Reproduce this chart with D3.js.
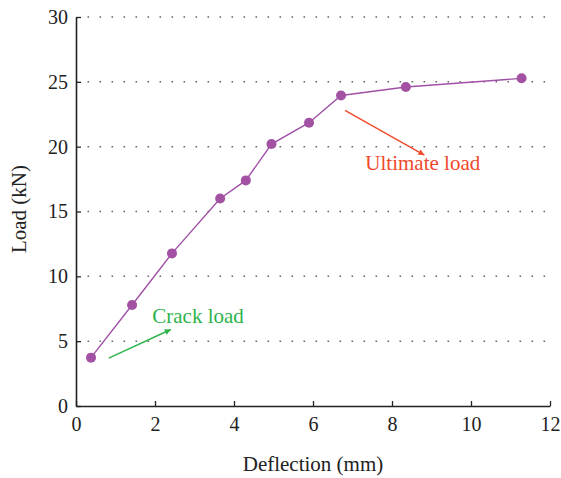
<!DOCTYPE html>
<html><head><meta charset="utf-8">
<script src="https://cdn.jsdelivr.net/npm/d3@7"></script>
<style>
body{margin:0;background:#fff;}
text{font-family:"Liberation Serif","Times New Roman",serif;}
</style></head>
<body><svg id="c" width="561" height="478"></svg>
<script>
const deflection = [0.38, 1.42, 2.43, 3.65, 4.30, 4.95, 5.90, 6.71, 8.35, 11.28];
const load = [3.73, 7.79, 11.77, 16.0, 17.4, 20.2, 21.85, 23.95, 24.6, 25.27];
const xTicks = [0, 2, 4, 6, 8, 10, 12];
const yTicks = [0, 5, 10, 15, 20, 25, 30];
const annotations = [
  {label: "Crack load", color: "#2db34a", from: [0.83, 3.7], to: [2.4, 5.9], text: [1.93, 6.42], anchor: "start"},
  {label: "Ultimate load", color: "#f0492b", from: [6.81, 22.8], to: [8.82, 19.35], text: [8.78, 18.2], anchor: "middle"}
];

const svg = d3.select("#c");
const m = {l: 76, r: 11, t: 17, b: 72};
const W = 561, H = 478;
const x = d3.scaleLinear().domain([0, 12]).range([m.l, W - m.r]);
const y = d3.scaleLinear().domain([0, 30]).range([H - m.b, m.t]);

// grid
svg.append("g").selectAll("line").data(yTicks.filter(d => d > 0)).join("line")
  .attr("x1", x(0) + 11.5).attr("x2", x(12)).attr("y1", d => y(d)).attr("y2", d => y(d))
  .attr("stroke", "#666").attr("stroke-width", 1.5).attr("stroke-dasharray", "1.6,10.4");

const xa = svg.append("g").attr("transform", `translate(0,${y(0)})`)
  .call(d3.axisBottom(x).tickValues(xTicks).tickSizeInner(-5).tickSizeOuter(0).tickPadding(11));
const ya = svg.append("g").attr("transform", `translate(${x(0)},0)`)
  .call(d3.axisLeft(y).tickValues(yTicks).tickSizeInner(-5).tickSizeOuter(0).tickPadding(8));
[xa, ya].forEach(a => {
  a.select(".domain").attr("stroke", "#222").attr("stroke-width", 1.6);
  a.selectAll(".tick line").attr("stroke", "#222").attr("stroke-width", 1.3);
  a.selectAll(".tick text").attr("font-size", 20).attr("fill", "#222")
   .attr("font-family", "'Liberation Serif',serif");
});

// line + points
svg.append("path").datum(deflection.map((d, i) => [d, load[i]]))
  .attr("fill", "none").attr("stroke", "#a050a6").attr("stroke-width", 1.4)
  .attr("d", d3.line().x(d => x(d[0])).y(d => y(d[1])));
svg.append("g").selectAll("circle").data(deflection).join("circle")
  .attr("cx", d => x(d)).attr("cy", (d, i) => y(load[i])).attr("r", 5)
  .attr("fill", "#a352a3");

// annotations
const defs = svg.append("defs");
annotations.forEach((a, i) => {
  defs.append("marker").attr("id", "ar" + i).attr("viewBox", "0 0 10 10")
    .attr("refX", 10).attr("refY", 5).attr("markerWidth", 9).attr("markerHeight", 6)
    .attr("markerUnits", "userSpaceOnUse").attr("orient", "auto")
    .append("path").attr("d", "M0,0 L10,5 L0,10 z").attr("fill", a.color);
  svg.append("line").attr("x1", x(a.from[0])).attr("y1", y(a.from[1]))
    .attr("x2", x(a.to[0])).attr("y2", y(a.to[1]))
    .attr("stroke", a.color).attr("stroke-width", 1.4).attr("marker-end", `url(#ar${i})`);
  svg.append("text").attr("x", x(a.text[0])).attr("y", y(a.text[1]))
    .attr("text-anchor", a.anchor).attr("font-size", 21).attr("fill", a.color).text(a.label);
});

// axis titles
svg.append("text").attr("x", (x(0) + x(12)) / 2).attr("y", 471).attr("text-anchor", "middle")
  .attr("font-size", 21).attr("fill", "#222").text("Deflection (mm)");
svg.append("text").attr("transform", `translate(26,209) rotate(-90)`)
  .attr("text-anchor", "middle").attr("font-size", 21).attr("fill", "#222").text("Load (kN)");
</script></body></html>
